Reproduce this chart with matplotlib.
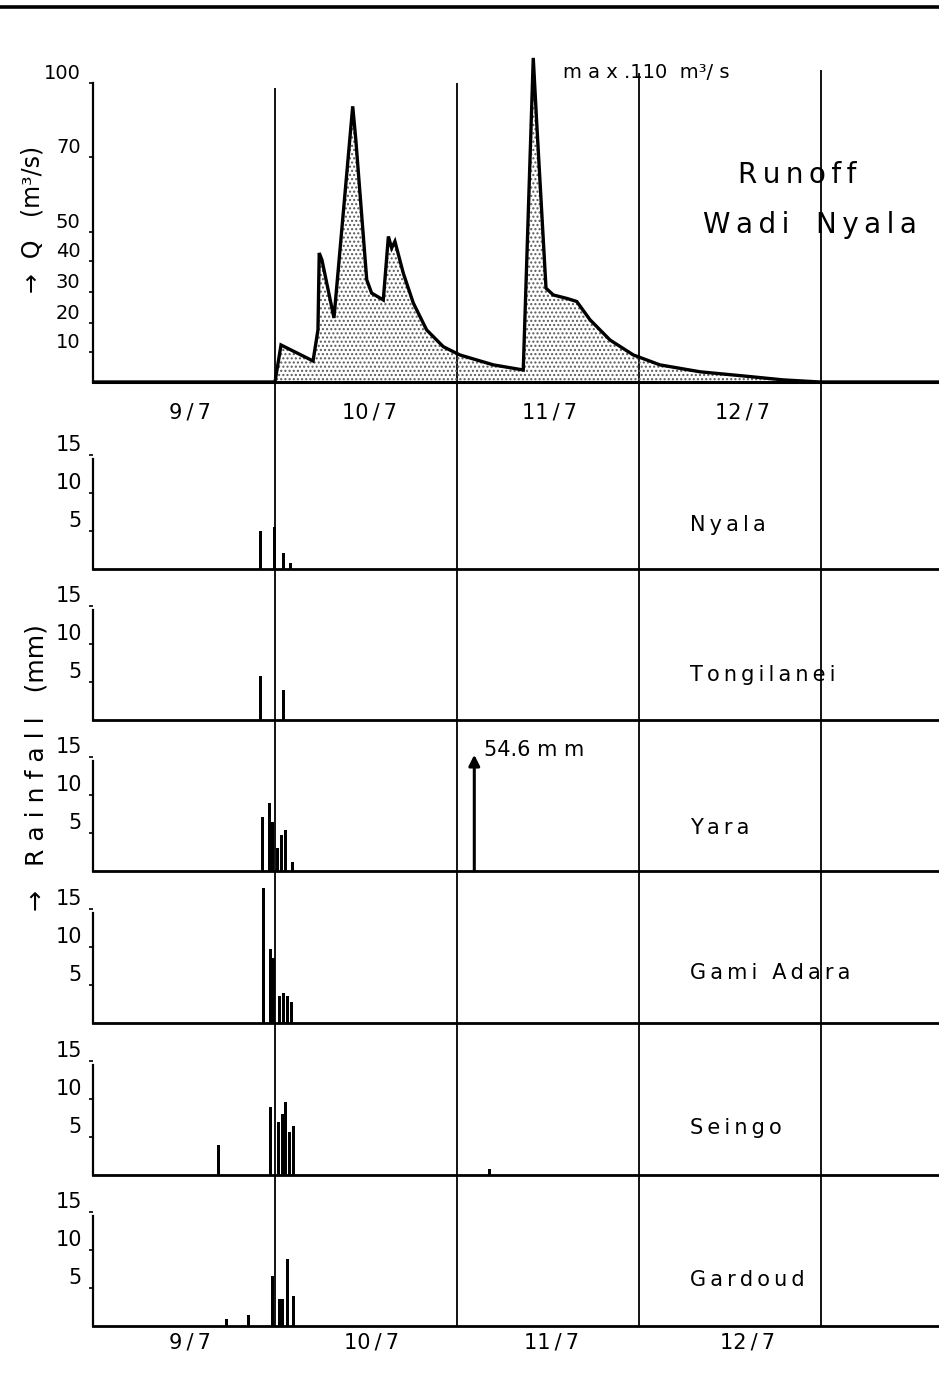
import numpy as np
import matplotlib
matplotlib.use("Agg")
import matplotlib.pyplot as plt

plt.rcParams['font.family'] = ['DejaVu Sans']

# ---------------- data ----------------
day_labels = ['9/7', '10/7', '11/7', '12/7']
day_bounds = [1, 2, 3, 4]          # day boundaries (days since 9/7 00:00)

# Runoff Wadi Nyala (time in days since 9/7 00:00, Q in m3/s)
runoff_t = [0.0, 1.0, 1.033, 1.209, 1.236, 1.243, 1.258, 1.324, 1.427, 1.444,
            1.504, 1.531, 1.595, 1.623, 1.641, 1.659, 1.705, 1.760, 1.833, 1.925,
            2.016, 2.200, 2.364, 2.419, 2.438, 2.489, 2.529, 2.603, 2.658, 2.731,
            2.841, 2.969, 3.115, 3.335, 3.610, 3.793, 3.995, 4.65]
runoff_q = [0, 0, 12.4, 7.0, 17.6, 42.7, 40.3, 21.6, 90.4, 76.9,
            33.9, 29.6, 27.4, 48.4, 44.4, 46.7, 36.0, 26.4, 17.6, 11.8,
            9.0, 5.7, 4.0, 110, 83.7, 31.2, 29.0, 27.9, 26.9, 21.0,
            14.1, 9.0, 5.7, 3.4, 1.8, 0.7, 0.0, 0.0]
q_ticks = [10, 20, 30, 40, 50, 70, 100]

# Rainfall (mm) per station
stations = ['Nyala', 'Tongilanei', 'Yara', 'Gami Adara', 'Seingo', 'Gardoud']
nyala_t = [0.918, 0.996, 1.046, 1.086]
nyala_mm = [5.0, 5.5, 2.1, 0.8]
tongilanei_t = [0.918, 1.046]
tongilanei_mm = [5.8, 3.9]
yara_t = [0.929, 0.968, 0.989, 1.011, 1.033, 1.055, 1.097, 2.095]
yara_mm = [7.1, 8.9, 6.5, 3.0, 4.8, 5.4, 1.2, 54.6]
gami_t = [0.936, 0.973, 0.992, 1.022, 1.044, 1.066, 1.093]
gami_mm = [17.7, 9.8, 8.5, 3.5, 3.9, 3.5, 2.8]
seingo_t = [0.688, 0.978, 1.018, 1.042, 1.060, 1.082, 1.104, 2.181]
seingo_mm = [4.0, 9.0, 7.0, 8.0, 9.6, 5.6, 6.5, 0.8]
gardoud_t = [0.731, 0.853, 0.987, 1.022, 1.042, 1.068, 1.104]
gardoud_mm = [0.9, 1.5, 6.6, 3.6, 3.6, 8.8, 4.0]
rain_ticks = [5, 10, 15]

# ---------------- layout (pixels) ----------------
W, H = 939, 1374
DPI = 100
PX_DAY = 182.0
X0 = 93                       # x pixel of 9/7 00:00
XMAX = (W - X0) / PX_DAY
fig = plt.figure(figsize=(W / DPI, H / DPI), dpi=DPI)

def fx(px):
    return px / W

def fy(py):
    return 1 - py / H

def day(px):
    return (px - X0) / PX_DAY

SP = '\u2009'

def spaced(s):
    return SP.join(s)

# background axes in (days, pixel-y) coordinates for frame lines and texts
bg = fig.add_axes([0, 0, 1, 1])
bg.set_xlim(day(0), day(W))
bg.set_ylim(H, 0)
bg.axis('off')

bg.hlines(7, day(0), day(W), color='black', lw=2.6)
line_tops = [88, 83, 73, 70]
for d, top in zip(day_bounds, line_tops):
    bg.vlines(d, top, 1326, color='black', lw=1.3)

# ---------------- runoff panel ----------------
QK = [-10, 0, 10, 20, 30, 40, 50, 70, 100, 200]
HK = [-30, 0, 30, 59, 90, 121, 150, 225, 299, 545.7]

def fwd(q):
    return np.interp(q, QK, HK)

def inv(h):
    return np.interp(h, HK, QK)

top_base, top_top = 382, 48
ax = fig.add_axes([fx(X0), fy(top_base), fx(W - X0), (top_base - top_top) / H])
ax.patch.set_visible(False)
ax.set_yscale('function', functions=(fwd, inv))
ax.set_xlim(0, XMAX)
ax.set_ylim(0, 114)
ax.fill_between(runoff_t, runoff_q, 0, facecolor='none', edgecolor='0.35',
                hatch='....', linewidth=0)
ax.plot(runoff_t, runoff_q, color='black', lw=2.4, solid_joinstyle='miter')
for s in ['top', 'right']:
    ax.spines[s].set_visible(False)
ax.spines['left'].set_bounds(0, 100)
ax.spines['left'].set_linewidth(1.6)
ax.spines['bottom'].set_linewidth(2.2)
ax.set_xticks([])
ax.set_yticks(q_ticks)
ax.set_yticklabels([str(v) for v in q_ticks])
ax.tick_params(axis='y', length=3, width=1.2, labelsize=14, pad=6)
for lbl in ax.get_yticklabels():
    lbl.set_verticalalignment('bottom')

# ---------------- rainfall panels ----------------
rain_t = [nyala_t, tongilanei_t, yara_t, gami_t, seingo_t, gardoud_t]
rain_mm = [nyala_mm, tongilanei_mm, yara_mm, gami_mm, seingo_mm, gardoud_mm]
bases = [569, 720, 871, 1023, 1175, 1326]
PX_MM = 7.6
PANEL_H = 151
ymax = PANEL_H / PX_MM
label_y = [525, 675, 828, 973, 1128, 1280]

for i, (tt, vv) in enumerate(zip(rain_t, rain_mm)):
    b = bases[i]
    a = fig.add_axes([fx(X0), fy(b), fx(W - X0), PANEL_H / H])
    a.patch.set_visible(False)
    a.set_xlim(0, XMAX)
    a.set_ylim(0, ymax)
    tt = np.array(tt)
    vv = np.array(vv)
    inside = vv <= ymax
    a.bar(tt[inside], vv[inside], width=0.0165, color='black', linewidth=0)
    for t_out, v_out in zip(tt[~inside], vv[~inside]):
        a.annotate('', xy=(t_out, 15.3), xytext=(t_out, 0),
                   arrowprops=dict(arrowstyle='-|>', color='black', lw=2.2,
                                   mutation_scale=16, shrinkA=0, shrinkB=0))
        a.text(t_out + 0.055, 15.9, f'{v_out:g}' + ' m m', fontsize=15,
               ha='left', va='center')
    for s in ['top', 'right']:
        a.spines[s].set_visible(False)
    a.spines['left'].set_bounds(0, 14.5)
    a.spines['left'].set_linewidth(1.6)
    a.spines['bottom'].set_linewidth(2.0)
    a.set_xticks([])
    a.set_yticks(rain_ticks)
    a.set_yticklabels([str(v) for v in rain_ticks])
    a.tick_params(axis='y', length=3, width=1.2, labelsize=15, pad=5)
    for lbl in a.get_yticklabels():
        lbl.set_verticalalignment('bottom')
    bg.text(day(690), label_y[i], spaced(stations[i]), fontsize=15,
            ha='left', va='center')

# ---------------- texts ----------------
top_lab_x = [190, 370, 550, 743]
bot_lab_x = [190, 372, 552, 748]
for lab, xt, xb in zip(day_labels, top_lab_x, bot_lab_x):
    txt = lab.replace('/', SP + '/' + SP)
    bg.text(day(xt), 412, txt, fontsize=15, ha='center', va='center')
    bg.text(day(xb), 1343, txt, fontsize=15, ha='center', va='center')

bg.text(day(563), 73, 'm a x .110  m\u00b3/ s', fontsize=14, ha='left', va='center')
bg.text(day(797), 175, spaced('Runoff'), fontsize=20, ha='center', va='center')
bg.text(day(810), 225, spaced('Wadi') + '   ' + spaced('Nyala'), fontsize=20,
        ha='center', va='center')

bg.text(day(33), 219, '\u2192  Q   (m\u00b3/s)', fontsize=17, rotation=90,
        ha='center', va='center')
bg.text(day(37), 768, '\u2192   R a i n f a l l   (mm)', fontsize=18, rotation=90,
        ha='center', va='center')

fig.savefig('out.png', dpi=DPI)
